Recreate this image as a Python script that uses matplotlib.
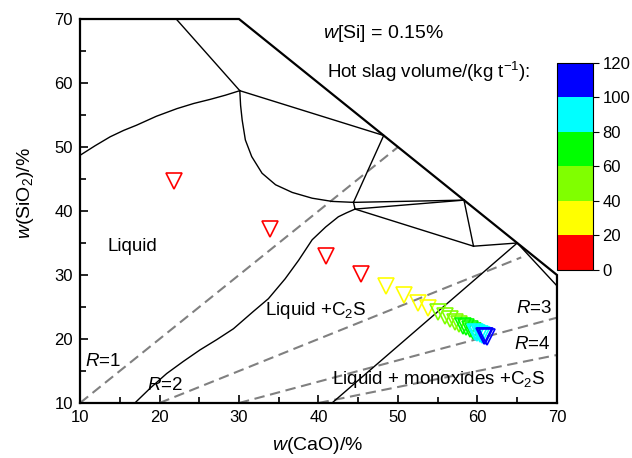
import numpy as np
import matplotlib
matplotlib.use("Agg")
import matplotlib.pyplot as plt
from matplotlib.colors import ListedColormap, BoundaryNorm

plt.rcParams['font.family'] = ['Liberation Sans', 'DejaVu Sans']
plt.rcParams['mathtext.fontset'] = 'custom'
plt.rcParams['mathtext.rm'] = 'Liberation Sans'
plt.rcParams['mathtext.it'] = 'Liberation Sans:italic'

# slag compositions along the path, coloured by hot slag volume
cao = [21.8, 33.9, 40.9, 45.4, 48.5, 50.8, 52.5, 53.8, 55.0, 55.9, 56.6, 57.2,
       57.7, 58.2, 58.6, 59.0, 59.4, 59.7, 60.0, 60.3, 60.6, 60.8, 61.0, 61.2]
sio2 = [44.7, 37.2, 33.0, 30.1, 28.3, 26.8, 25.7, 24.9, 24.2, 23.6, 23.1, 22.7,
        22.4, 22.1, 21.8, 21.6, 21.3, 21.1, 20.9, 20.8, 20.6, 20.5, 20.4, 20.3]
volume = [5, 10, 15, 18, 22, 27, 32, 37, 42, 46, 50, 54,
          58, 62, 66, 70, 75, 80, 85, 90, 95, 102, 106, 110]

bin_edges = [0, 20, 40, 60, 80, 100, 120]
bin_colors = ['#ff0000', '#ffff00', '#80ff00', '#00ff00', '#00ffff', '#0000ff']

# phase diagram boundaries (CaO, SiO2)
outer = [(10, 70), (30, 70), (70, 30), (70, 10)]
phase_lines = [
    [(22.1, 70), (30.1, 58.8)],
    # liquidus, silica side
    [(10, 48.7), (11.9, 50.2), (13.8, 51.6), (15.5, 52.6), (17.1, 53.4), (19.6, 54.8),
     (22.2, 56.0), (24.3, 56.8), (26.4, 57.45), (28.3, 58.1), (30.1, 58.8)],
    [(30.1, 58.8), (48.2, 51.8)],
    [(30.1, 58.8), (30.2, 56.5), (30.4, 54.2), (30.8, 51.1), (31.6, 48.5), (32.9, 45.9),
     (34.6, 44.1), (36.7, 42.9), (39.2, 42.0), (41.7, 41.5), (44.4, 41.35)],
    [(48.2, 51.8), (44.4, 41.35)],
    [(44.4, 41.35), (58.3, 41.7)],
    [(44.4, 41.35), (44.6, 40.3)],
    [(44.6, 40.3), (58.3, 41.7)],
    [(44.6, 40.3), (59.5, 34.5)],
    [(58.3, 41.7), (59.5, 34.5)],
    [(59.5, 34.5), (65.0, 35.0)],
    [(65.0, 35.0), (70, 28.3)],
    [(65.0, 35.0), (41.7, 10)],
    # liquid / C2S boundary
    [(44.6, 40.3), (43.5, 39.7), (42.5, 39.1), (40.9, 37.5), (39.2, 35.5), (37.5, 32.3),
     (35.8, 29.4), (33.7, 26.3), (31.8, 24.3), (29.3, 21.6), (27.2, 19.9), (25.1, 18.3),
     (23.0, 16.5), (20.9, 14.6), (18.9, 12.4), (16.9, 10)],
]

# basicity lines R = CaO/SiO2 : (R, CaO start, CaO end)
basicity = [(1, 10, 50), (2, 20, 65.5), (3, 30, 70), (4, 40, 70)]

fig = plt.figure(figsize=(6.32, 4.58), dpi=100)
ax = fig.add_axes([0.1266, 0.1201, 0.7547, 0.8384])

for r, x0, x1 in basicity:
    xs = np.array([x0, x1])
    ax.plot(xs, xs / r, color='#808080', lw=1.5, dashes=(5, 2.7))

for seg in phase_lines:
    px, py = zip(*seg)
    ax.plot(px, py, color='black', lw=1.0)

ox, oy = zip(*outer)
ax.plot(ox, oy, color='black', lw=1.6, clip_on=False, solid_joinstyle='miter')

cmap = ListedColormap(bin_colors)
norm = BoundaryNorm(bin_edges, cmap.N)
for x, y, v in zip(cao, sio2, volume):
    ax.plot(x, y, marker='v', ms=11.5, mfc='none', mec=cmap(norm(v)), mew=1.2, ls='none')

ax.set_xlim(10, 70)
ax.set_ylim(10, 70)
ax.spines['top'].set_visible(False)
ax.spines['right'].set_visible(False)
ax.spines['left'].set_linewidth(1.6)
ax.spines['bottom'].set_linewidth(1.6)
ax.set_xticks(np.arange(10, 71, 10))
ax.set_yticks(np.arange(10, 71, 10))
ax.set_xticks(np.arange(15, 70, 10), minor=True)
ax.set_yticks(np.arange(15, 70, 10), minor=True)
ax.tick_params(which='both', direction='in', width=1.2, labelsize=12, pad=5)
ax.tick_params(which='major', length=6)
ax.tick_params(which='minor', length=4.5)

ax.text(13.4, 34.4, 'Liquid', fontsize=13.5, va='center')
ax.text(33.3, 24.5, 'Liquid +C$_\\mathregular{2}$S', fontsize=13.5, va='center')
ax.text(41.7, 13.6, 'Liquid + monoxides +C$_\\mathregular{2}$S', fontsize=13.5, va='center')
ax.text(10.6, 16.5, '$R$=1', fontsize=13.5, va='center')
ax.text(18.4, 12.8, '$R$=2', fontsize=13.5, va='center')
ax.text(64.8, 24.8, '$R$=3', fontsize=13.5, va='center')
ax.text(64.6, 19.1, '$R$=4', fontsize=13.5, va='center')
ax.text(40.6, 67.8, '$w$[Si] = 0.15%', fontsize=14, va='center')
ax.text(41.1, 61.7, 'Hot slag volume/(kg t$^\\mathregular{-1}$):', fontsize=13.5, va='center',
        clip_on=False)

fig.text(318 / 632, 1 - 445 / 458, '$w$(CaO)/%', fontsize=14, ha='center', va='center')
fig.text(25 / 632, 1 - 193 / 458, '$w$(SiO$_\\mathregular{2}$)/%', fontsize=14,
         ha='center', va='center', rotation=90)

cax = fig.add_axes([0.882, 0.4105, 0.056, 0.4526])
sm = plt.cm.ScalarMappable(cmap=cmap, norm=norm)
cb = fig.colorbar(sm, cax=cax, ticks=bin_edges)
cb.outline.set_linewidth(0.8)
cax.tick_params(direction='out', length=4, width=0.8, labelsize=12, pad=3)

fig.savefig('out.png', dpi=100)
